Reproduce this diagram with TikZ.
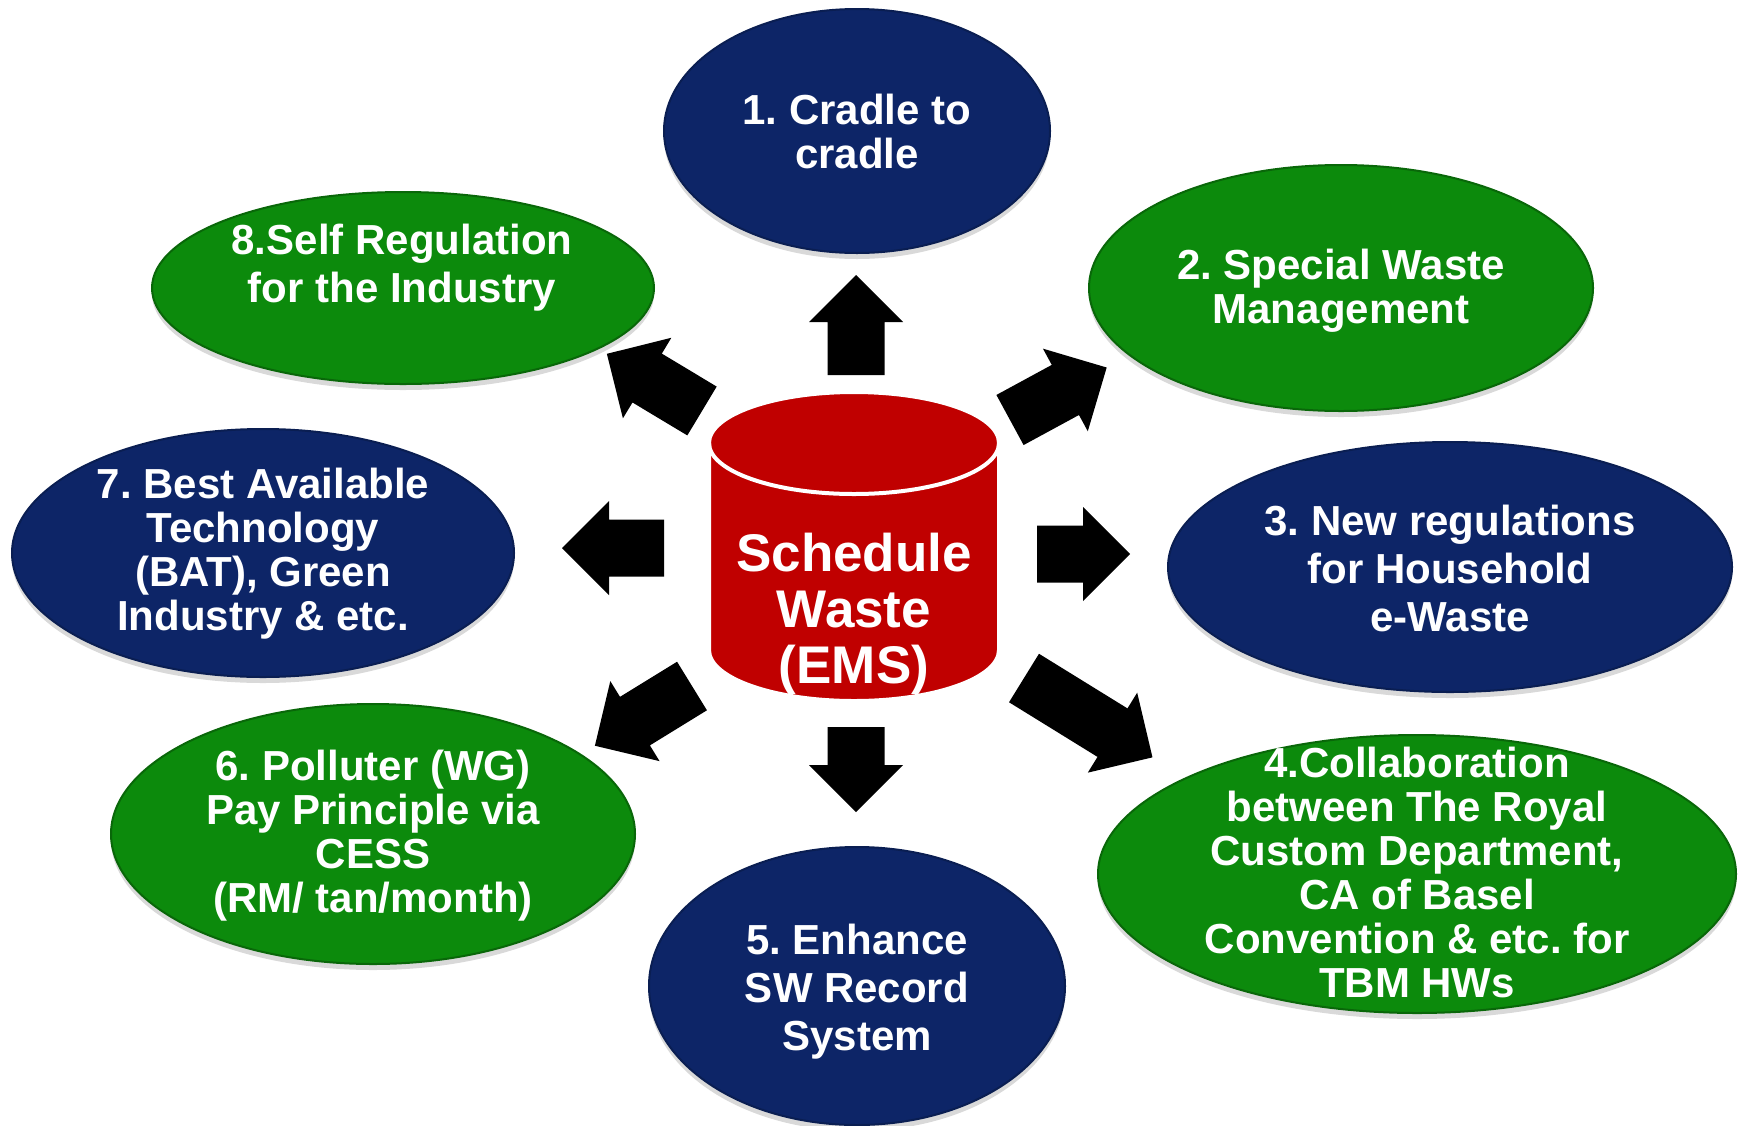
\documentclass[tikz,border=0pt]{standalone}
\usepackage{fontspec}
\setmainfont{Liberation Sans}
\usetikzlibrary{shapes.geometric,shadows}
\definecolor{navy}{RGB}{13,37,103}
\definecolor{grn}{RGB}{12,138,12}
\definecolor{cylred}{RGB}{192,0,0}
\frenchspacing
\newcommand\barrw[3]{\fill[arrowfill, shift={(#1)}, rotate=#2] (0,-28.5) -- ({#3-47},-28.5) -- ({#3-47},-47) -- (#3,0) -- ({#3-47},47) -- ({#3-47},28.5) -- (0,28.5) -- cycle;}
\begin{document}
\begin{tikzpicture}[x=1pt,y=-1pt,
  oval/.style={ellipse, inner sep=0pt, line width=2pt,
    drop shadow={shadow xshift=0pt, shadow yshift=-6pt, opacity=0.3}},
  blueoval/.style={oval, fill=navy, draw=navy!80!black},
  greenoval/.style={oval, fill=grn, draw=grn!75!black},
  txt/.style={text=white, align=center, inner sep=0pt,
    font=\bfseries\fontsize{42}{44}\selectfont},
  txtwide/.style={txt, font=\bfseries\fontsize{42}{48}\selectfont},
  arrowfill/.style={fill=black}]
\useasboundingbox (0,0) rectangle (1745,1125);

% ellipses
\node[blueoval,  minimum width=386pt, minimum height=244pt] (e1) at (857,131) {};
\node[greenoval, minimum width=504pt, minimum height=246pt] (e2) at (1341,288) {};
\node[blueoval,  minimum width=564pt, minimum height=250pt] (e3) at (1450,567) {};
\node[greenoval, minimum width=638pt, minimum height=278pt] (e4) at (1417,874) {};
\node[blueoval,  minimum width=416pt, minimum height=278pt] (e5) at (857,986) {};
\node[greenoval, minimum width=524pt, minimum height=260pt] (e6) at (373,834) {};
\node[blueoval,  minimum width=502pt, minimum height=248pt] (e7) at (263,553) {};
\node[greenoval, minimum width=502pt, minimum height=192pt] (e8) at (403,288) {};

% texts
\node[txt]     (t1) at (857,131) {1. Cradle to\\cradle};
\node[txt]     (t2) at (1341,291) {2. Special Waste\\Management};
\node[txtwide] (t3) at (1450,568) {3. New regulations\\for Household\\e-Waste};
\node[txt]     (t4) at (1417,872) {4.Collaboration\\between The Royal\\Custom Department,\\CA of Basel\\Convention \& etc. for\\TBM HWs};
\node[txtwide] (t5) at (857,992) {5. Enhance\\SW Record\\System};
\node[txt]     (t6) at (373,836) {6. Polluter (WG)\\Pay Principle via\\CESS\\(RM/ tan/month)};
\node[txt]     (t7) at (263,554) {7. Best Available\\Technology\\(BAT), Green\\Industry \& etc.};
\node[txtwide] (t8) at (402,268) {8.Self Regulation\\for the Industry};

% central cylinder
\filldraw[fill=cylred, draw=white, line width=4pt]
  (709,443) -- (709,650) arc (180:0:145 and 51) -- (999,443) arc (0:-180:145 and 51) -- cycle;
\draw[white, line width=4pt] (709,443) arc (180:0:145 and 51);
\node[text=white, align=center, inner sep=0pt,
  font=\bfseries\fontsize{53}{56}\selectfont] (ems) at (854,614) {Schedule\\Waste\\(EMS)};

% block arrows (tail coordinates)
\coordinate (a1) at (856,375);
\coordinate (a2) at (1010,420);
\coordinate (a3) at (1037,554);
\coordinate (a4) at (1024,678);
\coordinate (a5) at (856,727);
\coordinate (a6) at (692,686);
\coordinate (a7) at (664,548);
\coordinate (a8) at (702,411);
\barrw{a1}{90}{100}
\barrw{a2}{28.5}{110}
\barrw{a3}{0}{93}
\barrw{a4}{-31.7}{151}
\barrw{a5}{-90}{85}
\barrw{a6}{-148.4}{114}
\barrw{a7}{180}{102}
\barrw{a8}{149}{111}
\end{tikzpicture}
\end{document}
